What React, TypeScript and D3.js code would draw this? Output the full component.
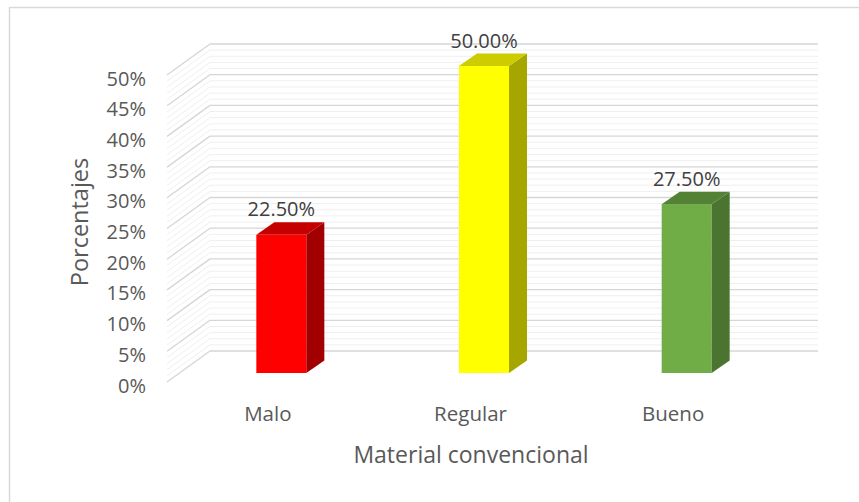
import React from "react";
import * as d3 from "d3";

const categories = ["Malo", "Regular", "Bueno"];
const values = [0.225, 0.5, 0.275];
const valueLabels = ["22.50%", "50.00%", "27.50%"];
const yTicks = [0, 0.05, 0.1, 0.15, 0.2, 0.25, 0.3, 0.35, 0.4, 0.45, 0.5];
const yTickLabels = ["0%", "5%", "10%", "15%", "20%", "25%", "30%", "35%", "40%", "45%", "50%"];
const frontColors = ["#FF0000", "#FFFF00", "#70AD47"];
const sideColors = ["#A20000", "#A6A600", "#4A7430"];
const topColors = ["#C40000", "#CCCC00", "#548235"];

const W = 859;
const H = 502;
const FONT = "'Open Sans', sans-serif";
const TXT = "#595959";

export default function App() {
  const yFront = d3.scaleLinear().domain([0, 0.5]).range([382, 75]);
  const yBack = d3.scaleLinear().domain([0, 0.5]).range([351, 44]);
  const yBar = d3.scaleLinear().domain([0, 0.5]).range([373, 66]);
  const xBand = d3.scaleBand().domain(categories).range([180, 788]);
  const xFrontWall = 167;
  const xBackL = 210;
  const xBackR = 818;
  const barW = 50;
  const dX = 18;
  const dY = 12.5;

  const minor = d3.range(0, 0.5001, 0.01).filter(
    (v) => Math.abs(Math.round(v * 100) % 5) !== 0
  );

  return (
    <svg
      width={W}
      height={H}
      style={{ position: "absolute", left: 0, top: 0, background: "#fff" }}
    >
      <rect x={9.5} y={7.5} width={W} height={H} fill="#fff" stroke="#d9d9d9" strokeWidth={1.5} />
      {minor.map((v, i) => (
        <g key={"m" + i}>
          <line x1={xFrontWall} y1={yFront(v)} x2={xBackL} y2={yBack(v)} stroke="#efefef" strokeWidth={1} />
          <line x1={xBackL} y1={yBack(v)} x2={xBackR} y2={yBack(v)} stroke="#efefef" strokeWidth={1} />
        </g>
      ))}
      {yTicks.map((v, i) => (
        <g key={"M" + i}>
          <line x1={xFrontWall} y1={yFront(v)} x2={xBackL} y2={yBack(v)} stroke="#d6d6d6" strokeWidth={1.3} />
          <line x1={xBackL} y1={yBack(v)} x2={xBackR} y2={yBack(v)} stroke="#d6d6d6" strokeWidth={1.3} />
        </g>
      ))}
      {yTicks.map((v, i) => (
        <text
          key={"t" + i}
          x={146}
          y={yFront(v) + 3}
          textAnchor="end"
          dominantBaseline="central"
          fontFamily={FONT}
          fontSize={20}
          fill={TXT}
        >
          {yTickLabels[i]}
        </text>
      ))}
      {categories.map((c, i) => {
        const cx = (xBand(c) as number) + xBand.bandwidth() / 2;
        const x0 = cx - barW / 2;
        const x1 = cx + barW / 2;
        const yb = yBar(0);
        const yt = yBar(values[i]);
        return (
          <g key={"b" + c}>
            <rect x={x0} y={yt} width={barW} height={yb - yt} fill={frontColors[i]} />
            <polygon
              points={`${x1},${yt} ${x1 + dX},${yt - dY} ${x1 + dX},${yb - dY} ${x1},${yb}`}
              fill={sideColors[i]}
            />
            <polygon
              points={`${x0},${yt} ${x0 + dX},${yt - dY} ${x1 + dX},${yt - dY} ${x1},${yt}`}
              fill={topColors[i]}
            />
            <text
              x={cx}
              y={yt - dY - 6}
              textAnchor="middle"
              fontFamily={FONT}
              fontSize={20}
              fill="#404040"
            >
              {valueLabels[i]}
            </text>
            <text
              x={cx - 13.5}
              y={421}
              textAnchor="middle"
              fontFamily={FONT}
              fontSize={20.5}
              fill={TXT}
            >
              {c}
            </text>
          </g>
        );
      })}
      <text x={471} y={463} textAnchor="middle" fontFamily={FONT} fontSize={23} fill={TXT}>
        Material convencional
      </text>
      <text
        transform={`translate(88,222) rotate(-90)`}
        textAnchor="middle"
        fontFamily={FONT}
        fontSize={23.5}
        fill={TXT}
      >
        Porcentajes
      </text>
    </svg>
  );
}
